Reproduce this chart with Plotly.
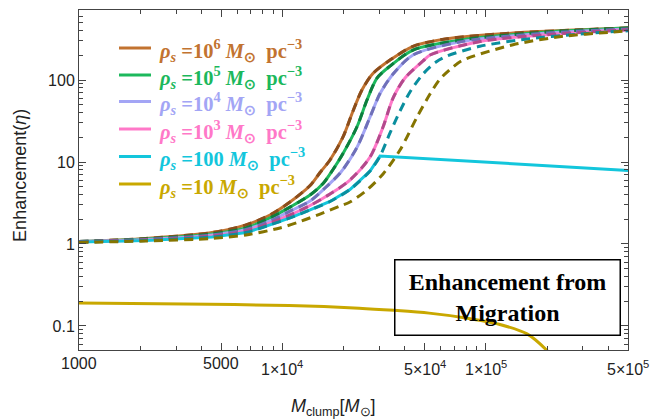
import math
import plotly.graph_objects as go

# ---------------- data ----------------
# rho_s = 1e6
x_r6 = [1000, 2133, 4510, 6625, 8690, 10900, 13680, 15310, 17140, 19860, 22240, 24600, 27860, 33810, 43870, 64400, 136100, 290300, 500000]
y_r6 = [1.07, 1.167, 1.38, 1.71, 2.26, 3.25, 5.16, 7.45, 10.57, 20.2, 41.9, 75.5, 120, 175, 258, 319, 374, 410, 430]

# rho_s = 1e5
x_r5 = [1000, 2133, 4510, 6625, 8690, 10900, 13680, 15850, 17740, 19860, 23290, 26050, 29180, 33810, 43870, 77270, 199900, 500000]
y_r5 = [1.07, 1.151, 1.324, 1.57, 2.08, 2.82, 3.96, 5.47, 8.11, 12.7, 27.1, 57.0, 105.7, 148, 232, 310, 385, 430]

# rho_s = 1e4
x_r4 = [1000, 2133, 4510, 6625, 8690, 10900, 13680, 16200, 19410, 23290, 26970, 30190, 34980, 43870, 77270, 199900, 500000]
y_r4 = [1.07, 1.135, 1.288, 1.50, 1.91, 2.52, 3.34, 4.82, 7.55, 15.2, 35.4, 68.4, 118.3, 202, 296, 374, 419]

# rho_s = 1e3
x_r3 = [1000, 2133, 4510, 6625, 8690, 10900, 13680, 17140, 21490, 26970, 31240, 34980, 40060, 49120, 53190, 93640, 199900, 500000]
y_r3 = [1.065, 1.119, 1.253, 1.44, 1.80, 2.26, 2.95, 4.07, 6.03, 11.5, 26.7, 60.3, 106, 170.7, 202, 295, 357, 410]

# rho_s = 100 : migration curve (dashed) and enhancement curve (solid)
x_r2_mig = [1000, 2133, 4510, 6625, 8690, 10900, 13680, 17140, 21490, 26970, 30190, 33810, 37860, 42380, 49120, 56930, 64450, 93530, 164800, 290300, 500000]
y_r2_mig = [1.058, 1.104, 1.216, 1.38, 1.71, 2.08, 2.60, 3.30, 4.62, 7.76, 11.8, 22.6, 41.9, 71.4, 118.3, 166, 196, 258, 319, 364, 399]
x_r2 = [1000, 2133, 4510, 6625, 8690, 10900, 13680, 17140, 21490, 26970, 30190, 500000]
y_r2 = [1.058, 1.104, 1.216, 1.38, 1.71, 2.08, 2.60, 3.30, 4.62, 7.76, 11.8, 7.9]

# rho_s = 10 : migration curve (dashed) and enhancement curve (solid)
x_r1_mig = [1000, 2133, 4510, 6625, 9730, 12210, 15310, 19190, 21490, 26050, 31240, 37860, 45900, 53170, 59540, 68980, 77270, 136100, 239600, 422100, 500000]
y_r1_mig = [1.043, 1.088, 1.167, 1.288, 1.57, 1.88, 2.32, 2.90, 3.25, 4.56, 7.15, 14.0, 35.4, 67.4, 102.8, 144.3, 175, 269, 341, 385, 399]
x_r1 = [1000, 3280, 10800, 23820, 35400, 52600, 78200, 116100, 159500, 201800, 224000]
y_r1 = [0.190, 0.185, 0.178, 0.165, 0.155, 0.1435, 0.126, 0.105, 0.080, 0.049, 0.036]

labels = ["10<sup>6</sup>", "10<sup>5</sup>", "10<sup>4</sup>", "10<sup>3</sup>", "100", "10"]

x_ticks = [1000, 5000, 1e4, 5e4, 1e5, 5e5]
x_ticktext = ["1000", "5000", "1×10<sup>4</sup>", "5×10<sup>4</sup>", "1×10<sup>5</sup>", "5×10<sup>5</sup>"]
y_ticks = [0.1, 1, 10, 100]
y_ticktext = ["0.1", "1", "10", "100"]

x_min, x_max = 1000, 5e5

# ---------------- styling ----------------
solid_cols = ["#c27330", "#1cb85c", "#a3a5f5", "#ff78c8", "#13c6dc", "#c9a800"]
dash_cols = ["#8a4d1c", "#0e7d3e", "#6f70b8", "#b24a8c", "#0a8e9e", "#857400"]

solid_x = [x_r6, x_r5, x_r4, x_r3, x_r2, x_r1]
solid_y = [y_r6, y_r5, y_r4, y_r3, y_r2, y_r1]
dash_x = [x_r6, x_r5, x_r4, x_r3, x_r2_mig, x_r1_mig]
dash_y = [y_r6, y_r5, y_r4, y_r3, y_r2_mig, y_r1_mig]

names = [(f"<b><i>ρ<sub>s</sub></i> ={labels[i]} <i>M</i><sub>⊙</sub>\u00a0 pc<sup>−3</sup></b>")
         for i in range(6)]

fig = go.Figure()

for i in range(6):
    shape = "linear" if i == 4 else "spline"
    fig.add_trace(go.Scatter(
        x=solid_x[i], y=solid_y[i], mode="lines", name=names[i], showlegend=False,
        line=dict(color=solid_cols[i], width=3, shape=shape, smoothing=0.8 if shape == "spline" else None),
    ))

for i in range(6):
    fig.add_trace(go.Scatter(
        x=dash_x[i], y=dash_y[i], mode="lines", showlegend=False,
        line=dict(color=dash_cols[i], width=3, dash="9px,6px", shape="spline", smoothing=0.8),
    ))

minor_x = [2000, 3000, 4000, 6000, 7000, 8000, 9000,
           20000, 30000, 40000, 60000, 70000, 80000, 90000,
           200000, 300000, 400000]
minor_y = [0.06, 0.07, 0.08, 0.09, 0.2, 0.3, 0.4, 0.5, 0.6, 0.7, 0.8, 0.9,
           2, 3, 4, 5, 6, 7, 8, 9, 20, 30, 40, 50, 60, 70, 80, 90,
           200, 300, 400, 500, 600, 700]

tick_font = dict(family="Liberation Sans, Arial, sans-serif", size=16, color="#222")
axis_common = dict(
    showgrid=False, zeroline=False, showline=True, linecolor="#444", linewidth=1,
    mirror="allticks", ticks="inside", ticklen=7, tickcolor="#444", tickwidth=1,
    tickfont=tick_font,
)

fig.update_xaxes(type="log", range=[math.log10(x_min), math.log10(x_max)], tickmode="array",
                 tickvals=x_ticks, ticktext=x_ticktext, showticklabels=False,
                 minor=dict(ticks="inside", ticklen=4, tickcolor="#444", tickvals=minor_x),
                 **axis_common)
fig.update_yaxes(type="log", range=[-1.293, 2.854], tickmode="array",
                 tickvals=y_ticks, ticktext=y_ticktext,
                 minor=dict(ticks="inside", ticklen=4, tickcolor="#444", tickvals=minor_y),
                 **axis_common)

# x tick labels (text placed at the tick values, mapped through the log axis)
lo, hi = math.log10(x_min), math.log10(x_max)
annots = []
for v, t in zip(x_ticks, x_ticktext):
    has_sup = "<sup>" in t
    annots.append(dict(
        text=t, x=(math.log10(v) - lo) / (hi - lo), xref="paper", y=0, yref="paper",
        xanchor="center", yanchor="middle", showarrow=False,
        yshift=-18 if has_sup else -13, font=tick_font))

# legend (drawn as key lines + coloured text, top-left of the plot)
plot_w, plot_h = 549.0, 340.0
leg_x0, leg_x1, leg_tx = 40.0, 72.0, 78.0      # px from left edge of plot area
leg_rows = [38.0, 65.0, 91.5, 119.0, 146.5, 174.0]  # px from top of plot area
shapes = []
for i in range(6):
    yp = 1 - leg_rows[i] / plot_h
    shapes.append(dict(type="line", xref="paper", yref="paper",
                       x0=leg_x0 / plot_w, x1=leg_x1 / plot_w, y0=yp, y1=yp,
                       line=dict(color=solid_cols[i], width=3)))
    annots.append(dict(text=names[i], xref="paper", yref="paper",
                       x=leg_tx / plot_w, y=yp, xanchor="left", yanchor="middle",
                       yshift=-2, showarrow=False,
                       font=dict(family="Liberation Serif, Times New Roman, serif",
                                 size=20.5, color=solid_cols[i])))

annots += [
    dict(text="<b>Enhancement from<br>Migration</b>", xref="paper", yref="paper",
         x=0.781, y=0.153, xanchor="center", yanchor="middle", showarrow=False,
         font=dict(family="Liberation Serif, Times New Roman, serif", size=24, color="black"),
         bordercolor="black", borderwidth=1.5, borderpad=2, width=220, height=70,
         bgcolor="rgba(0,0,0,0)"),
    dict(text="Enhancement(<i>η</i>)", xref="paper", yref="paper",
         x=-0.1075, y=0.515, xanchor="center", yanchor="middle", textangle=-90,
         showarrow=False,
         font=dict(family="Liberation Sans, Arial, sans-serif", size=18, color="#222")),
    dict(text="<i>M</i><sub>clump</sub>[<i>M</i><sub>⊙</sub>]", xref="paper", yref="paper",
         x=0.463, y=-0.17, xanchor="center", yanchor="middle", showarrow=False,
         font=dict(family="Liberation Sans, Arial, sans-serif", size=18, color="#222")),
]

fig.update_layout(
    width=668, height=420,
    margin=dict(l=79, r=40, t=10, b=70),
    paper_bgcolor="white", plot_bgcolor="white",
    showlegend=False,
    shapes=shapes,
    annotations=annots,
)

fig.write_html("out.html", post_script="document.body.style.margin='0';",
               config={"displayModeBar": False})
